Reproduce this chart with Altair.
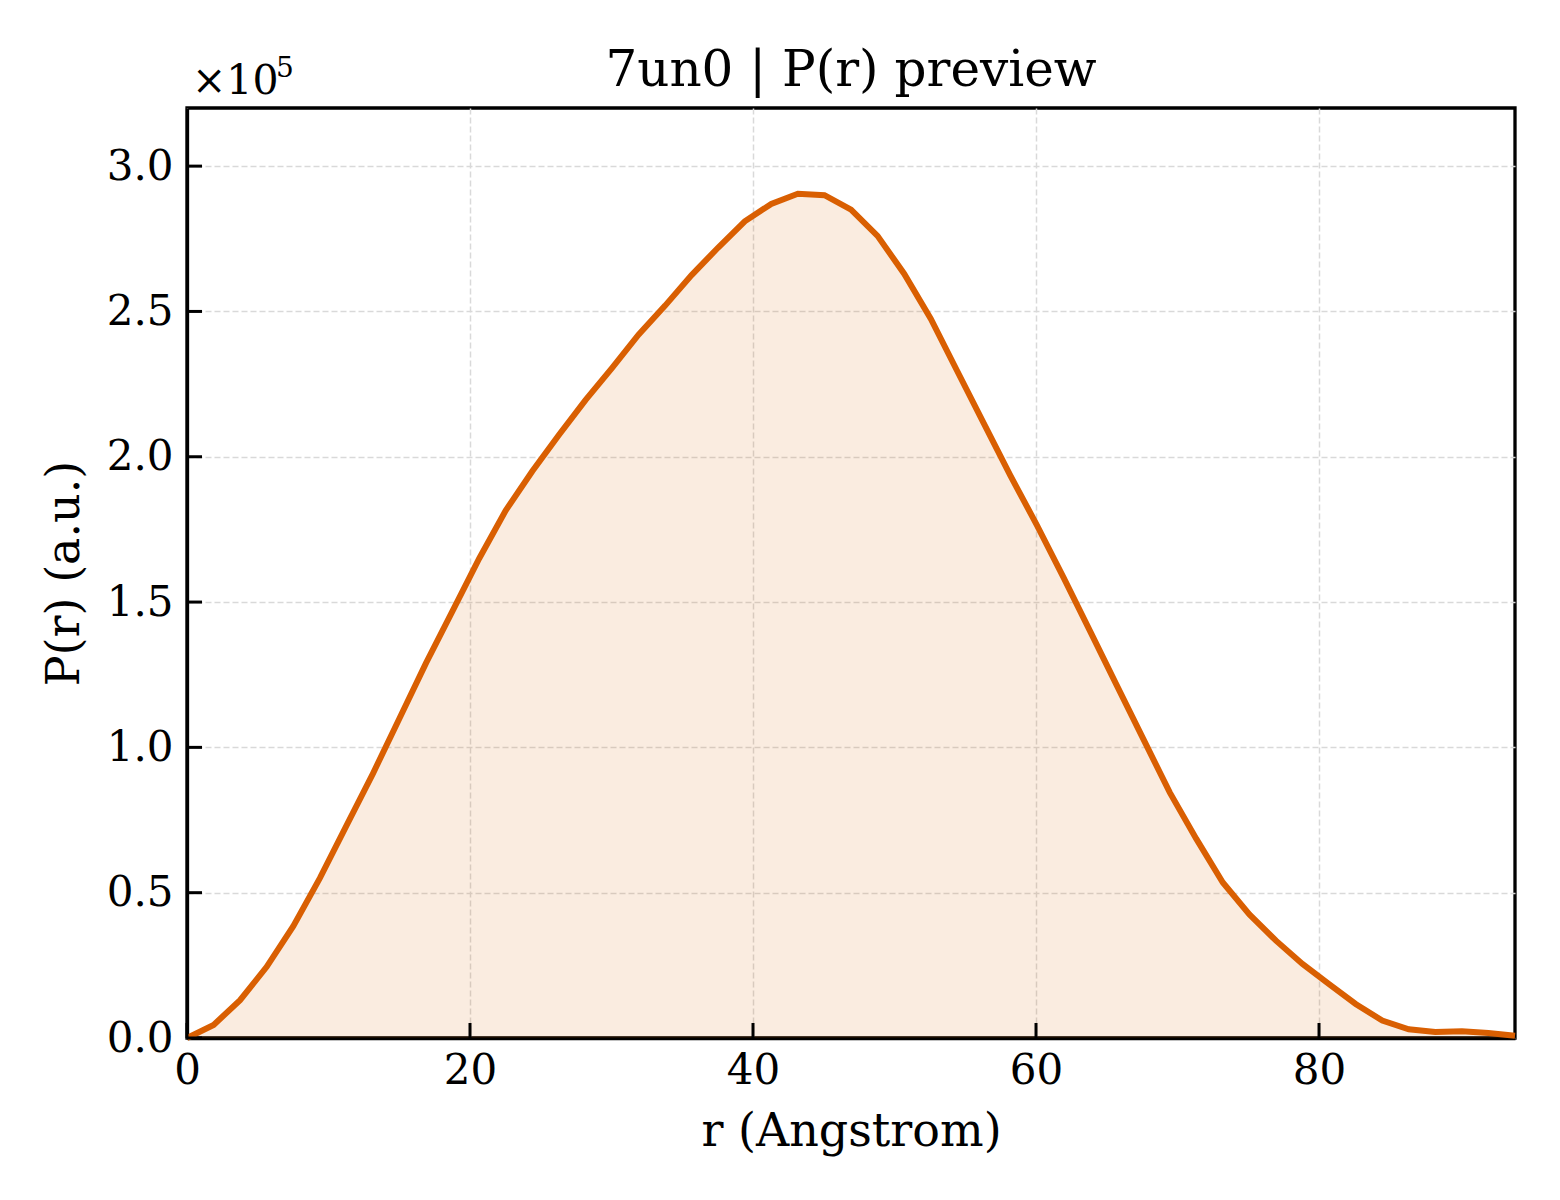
import pandas as pd
import altair as alt

r_values = [0.00, 1.88, 3.75, 5.63, 7.51, 9.39, 11.26, 13.14, 15.02, 16.89,
            18.77, 20.65, 22.52, 24.40, 26.28, 28.16, 30.03, 31.91, 33.79, 35.66,
            37.54, 39.42, 41.29, 43.17, 45.05, 46.93, 48.80, 50.68, 52.56, 54.43,
            56.31, 58.19, 60.06, 61.94, 63.82, 65.69, 67.57, 69.45, 71.33, 73.20,
            75.08, 76.96, 78.83, 80.71, 82.59, 84.47, 86.34, 88.22, 90.10, 91.97,
            93.85]
pr_values = [0, 4500, 13000, 24500, 38500, 55000, 73000, 91000, 110000, 129000,
             147000, 165000, 181500, 195000, 207500, 219500, 230500, 242000, 252000, 262500,
             272000, 281000, 287000, 290500, 290000, 285000, 276000, 263000, 247500, 229500,
             211500, 193500, 176500, 158500, 140000, 121500, 103000, 84500, 68500, 53500,
             42500, 33500, 25500, 18500, 11700, 6000, 3000, 2100, 2300, 1700,
             800]

y_ticks = [0, 50000, 100000, 150000, 200000, 250000, 300000]
x_ticks = [0, 20, 40, 60, 80]

title_text = "7un0 | P(r) preview"

FONT = "DejaVu Serif"
ORANGE = "#d95f02"

df = pd.DataFrame({"r": r_values, "pr": pr_values})

x_scale = alt.Scale(domain=[0, 93.85], nice=False, zero=False)
y_scale = alt.Scale(domain=[0, 320000], nice=False)

x_enc = alt.X("r:Q", scale=x_scale, title="r (Angstrom)",
              axis=alt.Axis(values=x_ticks, format="d", grid=True, labelFlush=False))
y_enc = alt.Y("pr:Q", scale=y_scale, title="P(r) (a.u.)",
              axis=alt.Axis(values=y_ticks, grid=True, labelFlush=False,
                            labelExpr="format(datum.value / 100000, '.1f')"))

area = alt.Chart(df).mark_area(color=ORANGE, opacity=0.12).encode(x=x_enc, y=y_enc)
line = alt.Chart(df).mark_line(color=ORANGE, strokeWidth=6).encode(x="r:Q", y="pr:Q")

# inward ticks on the left and bottom spines
yt = alt.Chart(pd.DataFrame({"pr": y_ticks})).mark_rule(color="black", strokeWidth=3).encode(
    y="pr:Q", x=alt.value(0), x2=alt.value(15))
xt = alt.Chart(pd.DataFrame({"r": x_ticks})).mark_rule(color="black", strokeWidth=3).encode(
    x="r:Q", y=alt.value({"expr": "height"}), y2=alt.value({"expr": "height - 15"}))

# offset text for the y axis
off_base = alt.Chart(pd.DataFrame({"t": ["×10"]})).mark_text(
    font=FONT, fontSize=41, align="left", baseline="alphabetic").encode(
    text="t:N", x=alt.value(5), y=alt.value(-14))
off_exp = alt.Chart(pd.DataFrame({"t": ["5"]})).mark_text(
    font=FONT, fontSize=28, align="left", baseline="alphabetic").encode(
    text="t:N", x=alt.value(89), y=alt.value(-31))

title = alt.Chart(pd.DataFrame({"t": [title_text]})).mark_text(
    font=FONT, fontSize=50, align="center", baseline="alphabetic", color="black").encode(
    text="t:N", x=alt.value({"expr": "width / 2"}), y=alt.value(-22))

chart = alt.layer(area, line, yt, xt, off_base, off_exp, title).properties(
    width=1328,
    height=930,
    autosize=alt.AutoSizeParams(type="none"),
    padding={"left": 179, "top": 100, "right": 30, "bottom": 130},
).configure_view(
    stroke="black", strokeWidth=3.3
).configure_axis(
    domain=True, domainColor="black", domainWidth=3.3, ticks=False, zindex=1,
    labelFont=FONT, labelFontSize=42, labelColor="black", labelPadding=14,
    titleFont=FONT, titleFontSize=46, titleFontWeight="normal", titleColor="black",
    gridColor="#d9d9d9", gridDash=[6, 3], gridWidth=1.5,
).configure_axisX(
    titlePadding=18, labelPadding=12
).configure_axisY(
    titlePadding=18
)

chart.save("out.html", embed_options={"renderer": "svg", "actions": False})
